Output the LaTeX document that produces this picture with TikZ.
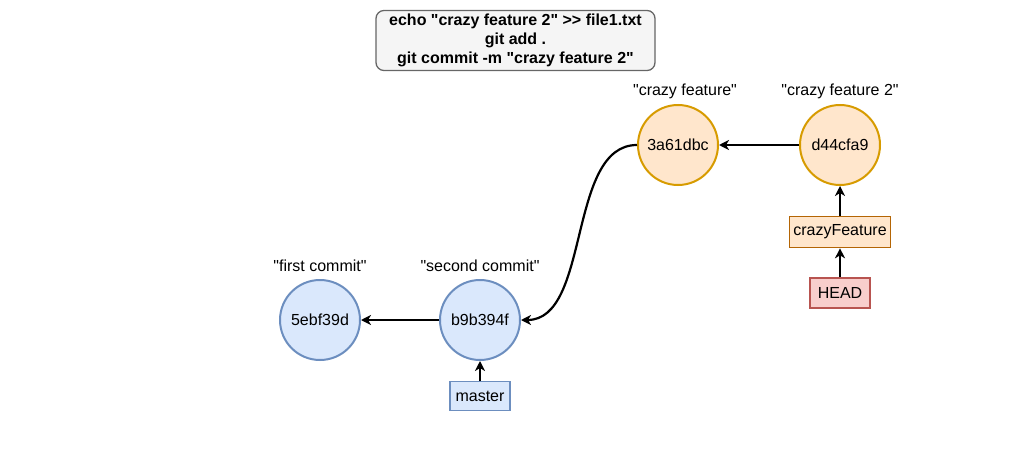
\documentclass[tikz,border=0pt]{standalone}
\usepackage{fontspec}
\setmainfont{Liberation Sans}[Ligatures=TeXOff]
\usetikzlibrary{arrows.meta,positioning}
\definecolor{bfill}{HTML}{DAE8FC}
\definecolor{bline}{HTML}{6C8EBF}
\definecolor{ofill}{HTML}{FFE6CC}
\definecolor{oline}{HTML}{D79B00}
\definecolor{obrn}{HTML}{B46504}
\definecolor{rfill}{HTML}{F8CECC}
\definecolor{rline}{HTML}{B85450}
\newcommand\dfont{\fontsize{16}{19.2}\selectfont}
\tikzset{
  cmt/.style  = {circle, draw=bline, fill=bfill, line width=2pt, minimum size=80pt,
                 inner sep=0pt, font=\dfont},
  cmto/.style = {circle, draw=oline, fill=ofill, line width=2pt, minimum size=80pt,
                 inner sep=0pt, font=\dfont},
  brn/.style  = {rectangle, draw=bline, fill=bfill, line width=1.3pt, minimum width=60pt,
                 minimum height=29pt, inner sep=4pt, font=\dfont},
  brno/.style = {rectangle, draw=obrn, fill=ofill, line width=1.3pt, minimum width=60pt,
                 minimum height=31pt, inner sep=4pt, font=\dfont},
  hd/.style   = {rectangle, draw=rline, fill=rfill, line width=1.3pt, minimum width=60pt,
                 minimum height=30pt, inner sep=4pt, font=\dfont},
  cmdbox/.style = {rectangle, rounded corners=8pt, draw=black!60, fill=black!4, line width=1.3pt,
                 minimum width=279pt, minimum height=59pt, align=center, font=\dfont\bfseries},
  lbl/.style  = {inner sep=0pt, font=\dfont},
  fl/.style   = {-{Stealth[length=10pt,width=10pt,inset=3pt]}, line width=2.2pt, black},
}
\begin{document}
\begin{tikzpicture}[x=1pt, y=-1pt]
  \useasboundingbox (0,0) rectangle (1010,471);
  \node[cmdbox] (cmd) at (515.5,40.5) {echo "crazy feature 2" >> file1.txt\\ git add .\\ git commit -m "crazy feature 2"};
  \node[cmt] (c1) at (320,320) {5ebf39d};
  \node[cmt] (c2) at (480,320) {b9b394f};
  \node[cmto] (c3) at (678,145) {3a61dbc};
  \node[cmto] (c4) at (840,145) {d44cfa9};
  \node[lbl] (l1) at (320,266) {"first commit"};
  \node[lbl] (l2) at (480,266) {"second commit"};
  \node[lbl] (l3) at (685,91) {"crazy feature"};
  \node[lbl] (l4) at (840,91) {"crazy feature 2"};
  \node[brn, below=20pt of c2] (master) {master};
  \node[brno, below=30pt of c4] (feat) {crazyFeature};
  \node[hd, below=29pt of feat] (head) {HEAD};
  \draw[fl] (c2) -- (c1);
  \draw[fl] (c4) -- (c3);
  \draw[fl] (c3.west) .. controls +(-70,0) and +(70,0) .. (c2.east);
  \draw[fl] (master) -- (c2);
  \draw[fl] (feat) -- (c4);
  \draw[fl] (head) -- (feat);
\end{tikzpicture}
\end{document}
